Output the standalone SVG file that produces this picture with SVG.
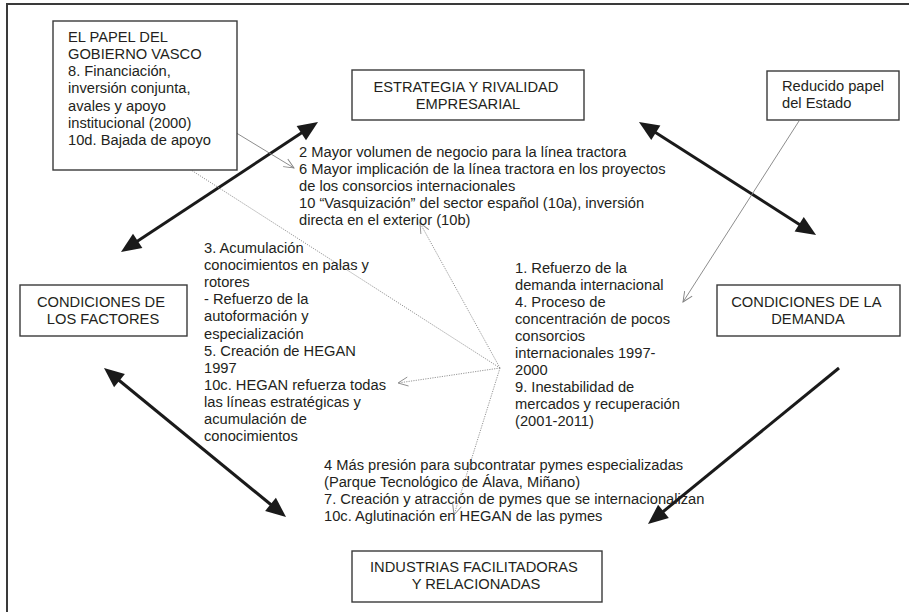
<svg xmlns="http://www.w3.org/2000/svg" width="909" height="612" viewBox="0 0 909 612">
  <style>
    .frame { fill: none; stroke: #3a3a3a; stroke-width: 2; }
    .box { fill: #ffffff; stroke: #3a3a3a; stroke-width: 1.4; }
    .t { font-family: "Liberation Sans", Arial, sans-serif; font-size: 14.7px; fill: #231f20; }
    .c { text-anchor: middle; }
    .thick { fill: none; stroke: #1a1a1a; stroke-width: 3; }
    .thin { fill: none; stroke: #808080; stroke-width: 0.9; }
    .dot { fill: none; stroke: #8a8a8a; stroke-width: 0.9; stroke-dasharray: 1.2 1.2; }
  </style>
  <defs>
    <marker id="head" markerUnits="userSpaceOnUse" markerWidth="22" markerHeight="20" refX="5" refY="8.5" orient="auto-start-reverse" overflow="visible">
      <path d="M0,0 L20,8.5 L0,17 Z" fill="#1a1a1a"/>
    </marker>
    <marker id="vee" markerUnits="userSpaceOnUse" markerWidth="12" markerHeight="10" refX="10" refY="4.5" orient="auto" overflow="visible">
      <path d="M0,0 L10,4.5 L0,9" fill="none" stroke="#808080" stroke-width="0.9"/>
    </marker>
    <marker id="veeDot" markerUnits="userSpaceOnUse" markerWidth="12" markerHeight="10" refX="10" refY="4.5" orient="auto" overflow="visible">
      <path d="M0,0 L10,4.5 L0,9" fill="none" stroke="#8a8a8a" stroke-width="0.9"/>
    </marker>
  </defs>

  <!-- outer frame -->
  <rect class="frame" x="7" y="4" width="912" height="620"/>

  <!-- connectors -->
  <g id="connectors">
    <!-- thick relations between the four corners of the diamond -->
    <path class="thick" d="M133.5,243.7 L305.5,130.3" marker-start="url(#head)" marker-end="url(#head)"/>
    <path class="thick" d="M651.6,130.1 L803.4,226.9" marker-start="url(#head)" marker-end="url(#head)"/>
    <path class="thick" d="M115.6,377.5 L274.4,507.5" marker-start="url(#head)" marker-end="url(#head)"/>
    <path class="thick" d="M839,368 L659.6,514.5" marker-end="url(#head)"/>
    <!-- thin influence lines -->
    <path class="thin" d="M187,103 L294,168" marker-end="url(#vee)"/>
    <path class="thin" d="M799,121 L683,302" marker-end="url(#vee)"/>
    <!-- dotted lines fanning out from the demand text -->
    <path class="dot" d="M500,368 L163,152" marker-end="url(#veeDot)"/>
    <path class="dot" d="M500,368 L420,223" marker-end="url(#veeDot)"/>
    <path class="dot" d="M500,368 L398,383" marker-end="url(#veeDot)"/>
    <path class="dot" d="M500,368 L454,515" marker-end="url(#veeDot)"/>
  </g>

  <!-- nodes -->
  <g id="gobierno-vasco">
    <rect class="box" x="53" y="21" width="184" height="149"/>
    <text class="t">
      <tspan x="68" y="41.5">EL PAPEL DEL</tspan>
      <tspan x="68" dy="17.3">GOBIERNO VASCO</tspan>
      <tspan x="68" dy="17.3">8. Financiación,</tspan>
      <tspan x="68" dy="17.3">inversión conjunta,</tspan>
      <tspan x="68" dy="17.3">avales y apoyo</tspan>
      <tspan x="68" dy="17.3">institucional (2000)</tspan>
      <tspan x="68" dy="17.3">10d. Bajada de apoyo</tspan>
    </text>
  </g>

  <g id="estrategia">
    <rect class="box" x="352" y="70" width="232" height="50"/>
    <text class="t c">
      <tspan x="468" y="92">ESTRATEGIA Y RIVALIDAD</tspan>
      <tspan x="468" dy="17.2">EMPRESARIAL</tspan>
    </text>
  </g>

  <g id="reducido-estado">
    <rect class="box" x="767" y="71" width="132" height="49"/>
    <text class="t">
      <tspan x="782" y="91">Reducido papel</tspan>
      <tspan x="782" dy="17.2">del Estado</tspan>
    </text>
  </g>

  <g id="factores">
    <rect class="box" x="20" y="285" width="167" height="51"/>
    <text class="t c">
      <tspan x="103" y="307">CONDICIONES DE</tspan>
      <tspan x="103" dy="16.6">LOS FACTORES</tspan>
    </text>
  </g>

  <g id="demanda">
    <rect class="box" x="717" y="285" width="183" height="51"/>
    <text class="t c">
      <tspan x="808" y="307">CONDICIONES DE LA</tspan>
      <tspan x="808" dy="16.6">DEMANDA</tspan>
    </text>
  </g>

  <g id="industrias">
    <rect class="box" x="352" y="551" width="250" height="51"/>
    <text class="t c">
      <tspan x="476" y="572">INDUSTRIAS FACILITADORAS</tspan>
      <tspan x="476" dy="17">Y RELACIONADAS</tspan>
    </text>
  </g>

  <!-- free text blocks -->
  <g id="texto-estrategia">
    <text class="t">
      <tspan x="299" y="157">2 Mayor volumen de negocio para la línea tractora</tspan>
      <tspan x="299" dy="17">6 Mayor implicación de la línea tractora en los proyectos</tspan>
      <tspan x="299" dy="17">de los consorcios internacionales</tspan>
      <tspan x="299" dy="17">10 “Vasquización” del sector español (10a), inversión</tspan>
      <tspan x="299" dy="17">directa en el exterior (10b)</tspan>
    </text>
  </g>

  <g id="texto-factores">
    <text class="t">
      <tspan x="204" y="253">3. Acumulación</tspan>
      <tspan x="204" dy="17.1">conocimientos en palas y</tspan>
      <tspan x="204" dy="17.1">rotores</tspan>
      <tspan x="204" dy="17.1">- Refuerzo de la</tspan>
      <tspan x="204" dy="17.1">autoformación y</tspan>
      <tspan x="204" dy="17.1">especialización</tspan>
      <tspan x="204" dy="17.1">5. Creación de HEGAN</tspan>
      <tspan x="204" dy="17.1">1997</tspan>
      <tspan x="204" dy="17.1">10c. HEGAN refuerza todas</tspan>
      <tspan x="204" dy="17.1">las líneas estratégicas y</tspan>
      <tspan x="204" dy="17.1">acumulación de</tspan>
      <tspan x="204" dy="17.1">conocimientos</tspan>
    </text>
  </g>

  <g id="texto-demanda">
    <text class="t">
      <tspan x="515" y="273">1. Refuerzo de la</tspan>
      <tspan x="515" dy="17">demanda internacional</tspan>
      <tspan x="515" dy="17">4. Proceso de</tspan>
      <tspan x="515" dy="17">concentración de pocos</tspan>
      <tspan x="515" dy="17">consorcios</tspan>
      <tspan x="515" dy="17">internacionales 1997-</tspan>
      <tspan x="515" dy="17">2000</tspan>
      <tspan x="515" dy="17">9. Inestabilidad de</tspan>
      <tspan x="515" dy="17">mercados y recuperación</tspan>
      <tspan x="515" dy="17">(2001-2011)</tspan>
    </text>
  </g>

  <g id="texto-industrias">
    <text class="t">
      <tspan x="324" y="470">4 Más presión para subcontratar pymes especializadas</tspan>
      <tspan x="324" dy="17">(Parque Tecnológico de Álava, Miñano)</tspan>
      <tspan x="324" dy="17">7. Creación y atracción de pymes que se internacionalizan</tspan>
      <tspan x="324" dy="17">10c. Aglutinación en HEGAN de las pymes</tspan>
    </text>
  </g>
</svg>
